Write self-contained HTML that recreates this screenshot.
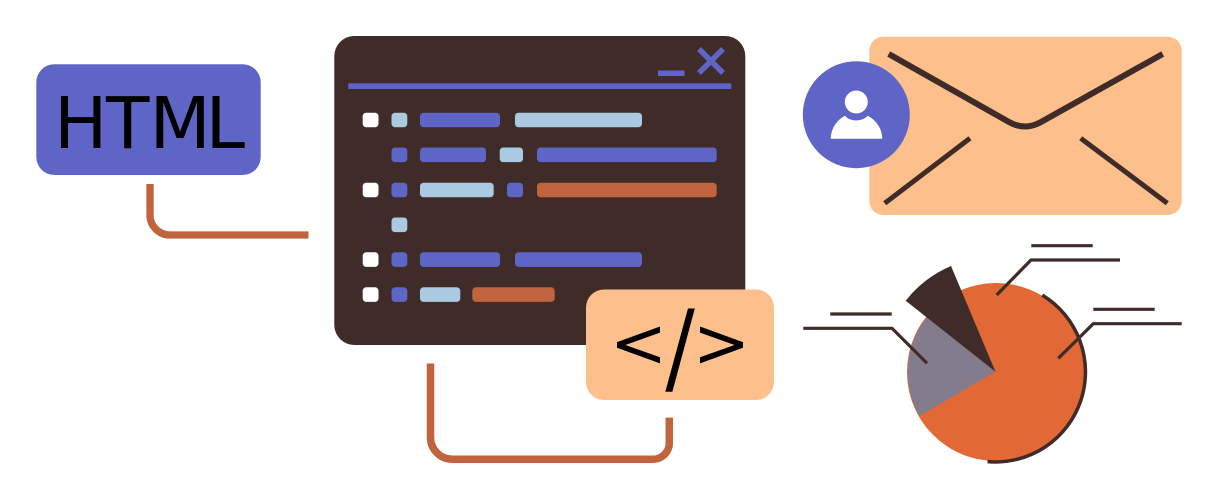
<!DOCTYPE html>
<html><head><meta charset="utf-8"><style>html,body{margin:0;padding:0;background:#fff}svg{display:block}text{font-family:"DejaVu Sans",sans-serif;fill:#000}</style></head>
<body>
<svg width="1217" height="500" viewBox="0 0 1217 500" xmlns="http://www.w3.org/2000/svg">
<rect width="1217" height="500" fill="#fff"/>
<!-- HTML box -->
<rect x="36.3" y="64.3" width="224.4" height="110.7" rx="18" fill="#5f65c6"/>
<text x="54 106 149.5 205.5" y="148" font-size="71">HTML</text>
<path d="M150 184V215a20 20 0 0 0 20 20H308.5" fill="none" stroke="#bf643c" stroke-width="7.3"/>
<!-- window -->
<rect x="334.3" y="36" width="411" height="309" rx="20" fill="#3f2b27"/>
<rect x="348.3" y="83.3" width="383" height="5.7" fill="#5f65c6"/>
<rect x="658" y="70.5" width="26.5" height="5.5" fill="#5f65c6"/>
<path d="M699 49L723 73M723 49L699 73" stroke="#5f65c6" stroke-width="5.5" fill="none"/>
<g>
<g fill="#fff">
<rect x="362.7" y="112.7" width="15.8" height="14.6" rx="3.5"/>
<rect x="362.7" y="182.7" width="15.8" height="14.6" rx="3.5"/>
<rect x="362.7" y="252.3" width="15.8" height="14.6" rx="3.5"/>
<rect x="362.7" y="287.3" width="15.8" height="14.6" rx="3.5"/>
</g>
<g fill="#a9cae0">
<rect x="391.5" y="112.7" width="15.8" height="14.6" rx="3.5"/>
<rect x="515" y="112.7" width="127" height="14.6" rx="3.5"/>
<rect x="499.7" y="147.5" width="23.3" height="14.6" rx="3.5"/>
<rect x="420" y="182.7" width="73.7" height="14.6" rx="3.5"/>
<rect x="391.5" y="217.5" width="15.8" height="14.6" rx="3.5"/>
<rect x="420" y="287.3" width="40.3" height="14.6" rx="3.5"/>
</g>
<g fill="#5f65c6">
<rect x="420" y="112.7" width="80" height="14.6" rx="3.5"/>
<rect x="391.5" y="147.5" width="15.8" height="14.6" rx="3.5"/>
<rect x="420" y="147.5" width="66" height="14.6" rx="3.5"/>
<rect x="537" y="147.5" width="179.7" height="14.6" rx="3.5"/>
<rect x="391.5" y="182.7" width="15.8" height="14.6" rx="3.5"/>
<rect x="507" y="182.7" width="16" height="14.6" rx="3.5"/>
<rect x="391.5" y="252.3" width="15.8" height="14.6" rx="3.5"/>
<rect x="420" y="252.3" width="80" height="14.6" rx="3.5"/>
<rect x="515" y="252.3" width="127" height="14.6" rx="3.5"/>
<rect x="391.5" y="287.3" width="15.8" height="14.6" rx="3.5"/>
</g>
<g fill="#bf643c">
<rect x="537" y="182.7" width="179.7" height="14.6" rx="3.5"/>
<rect x="472.3" y="287.3" width="82.4" height="14.6" rx="3.5"/>
</g>
</g>
<!-- code box -->
<rect x="586" y="289.5" width="188" height="110.5" rx="18" fill="#fdc08c"/>
<text x="609.7" y="366.5" font-size="68.6">&lt;</text>
<text x="664" y="391.3" font-size="115.6" stroke="#fdc08c" stroke-width="2" style="font-family:'Liberation Sans',sans-serif">/</text>
<text x="692.7" y="366.5" font-size="68.6">&gt;</text>
<path d="M430.5 363.5V437a22 22 0 0 0 22 22.3H653a16.3 16.3 0 0 0 16.3-16.3V417.6" fill="none" stroke="#bf643c" stroke-width="7.5"/>
<!-- envelope -->
<rect x="869.3" y="36.7" width="312.4" height="178.3" rx="14" fill="#fdc08c"/>
<path d="M888.7 54L1009 122Q1025 131 1041 122L1162.7 54" fill="none" stroke="#3f2b27" stroke-width="6"/>
<path d="M970 138.3L884.7 203.3M1080.7 138.3L1167.3 203.3" fill="none" stroke="#3f2b27" stroke-width="5"/>
<circle cx="856.3" cy="114.7" r="53.5" fill="#5f65c6"/>
<path d="M830.7 138.7C831 128 837 120 845 115.7C850 122 862 122 867.7 115.7C876 120 882 128 882.3 138.7Z" fill="#fff"/>
<circle cx="856.3" cy="102" r="11.5" fill="#fff"/>
<!-- pie -->
<circle cx="996" cy="372" r="89" fill="#e26836"/>
<path d="M995.5 371.7L919.3 416A89 89 0 0 1 926.7 317.3Z" fill="#827c8c"/>
<path d="M1042.3 295.1A90 90 0 0 1 987.5 461.6" fill="none" stroke="#3f2b27" stroke-width="3.5"/>
<path d="M995.5 371.7L951 266A114.5 114.5 0 0 0 905.7 300.7Z" fill="#3f2b27"/>
<g fill="none" stroke="#3f2b27" stroke-width="3.2">
<path d="M1031.3 245.7H1092.7"/>
<path d="M996.7 295L1031 260H1120"/>
<path d="M1093.3 309.3H1154.7"/>
<path d="M1058.3 358.3L1093.3 323.7H1181.7"/>
<path d="M830.3 314H891.7"/>
<path d="M803.3 328.3H892L927 363.3"/>
</g>
</svg>
</body></html>
